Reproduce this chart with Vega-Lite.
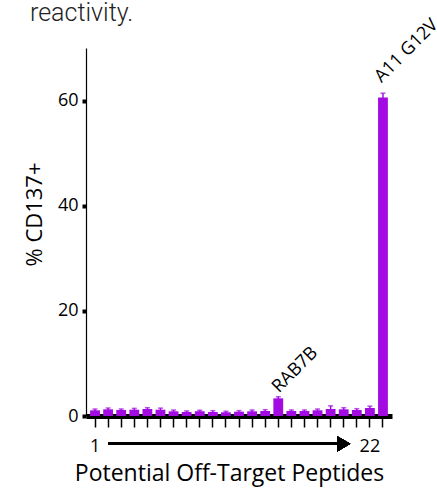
{
  "$schema": "https://vega.github.io/schema/vega-lite/v6.json",
  "autosize": "none",
  "width": 306,
  "height": 368,
  "padding": {"left": 86, "top": 48, "right": 45, "bottom": 74},
  "background": "white",
  "title": {"text": "reactivity.", "anchor": "start", "frame": "group", "dx": -56, "dy": 24, "offset": 14, "font": "Roboto", "fontWeight": 300, "fontSize": 25, "color": "#222222"},
  "config": {"view": {"stroke": null}, "font": "Open Sans"},
  "data": {"values": [
    {"idx": 1, "value": 1.08, "err": 0.25, "label": ""},
    {"idx": 2, "value": 1.27, "err": 0.25, "label": ""},
    {"idx": 3, "value": 1.14, "err": 0.2, "label": ""},
    {"idx": 4, "value": 1.2, "err": 0.25, "label": ""},
    {"idx": 5, "value": 1.33, "err": 0.25, "label": ""},
    {"idx": 6, "value": 1.2, "err": 0.3, "label": ""},
    {"idx": 7, "value": 0.89, "err": 0.25, "label": ""},
    {"idx": 8, "value": 0.76, "err": 0.2, "label": ""},
    {"idx": 9, "value": 0.89, "err": 0.2, "label": ""},
    {"idx": 10, "value": 0.76, "err": 0.25, "label": ""},
    {"idx": 11, "value": 0.7, "err": 0.2, "label": ""},
    {"idx": 12, "value": 0.82, "err": 0.2, "label": ""},
    {"idx": 13, "value": 0.89, "err": 0.25, "label": ""},
    {"idx": 14, "value": 0.95, "err": 0.25, "label": ""},
    {"idx": 15, "value": 3.36, "err": 0.3, "label": "RAB7B"},
    {"idx": 16, "value": 0.95, "err": 0.2, "label": ""},
    {"idx": 17, "value": 0.95, "err": 0.2, "label": ""},
    {"idx": 18, "value": 1.08, "err": 0.25, "label": ""},
    {"idx": 19, "value": 1.33, "err": 0.6, "label": ""},
    {"idx": 20, "value": 1.27, "err": 0.3, "label": ""},
    {"idx": 21, "value": 1.14, "err": 0.25, "label": ""},
    {"idx": 22, "value": 1.52, "err": 0.35, "label": ""},
    {"idx": 23, "value": 60.6, "err": 0.8, "label": "A11 G12V"}
  ]},
  "encoding": {
    "x": {"field": "idx", "type": "ordinal",
      "scale": {"paddingInner": 0.25, "paddingOuter": 0.315},
      "axis": {"title": "Potential Off-Target Peptides", "labelAngle": 0,
        "labelExpr": "datum.value == 1 ? '1' : datum.value == 22 ? '22' : ''",
        "domainColor": "black", "domainWidth": 5, "tickColor": "black", "tickWidth": 1.5, "tickSize": 11,
        "labelFont": "Open Sans", "labelFontSize": 18, "labelColor": "black", "labelPadding": 10,
        "titleFont": "Open Sans", "titleFontSize": 23, "titleFontWeight": "normal", "titleColor": "black",
        "titleX": 143, "titleY": 64, "titleBaseline": "alphabetic"}},
    "y": {"field": "value", "type": "quantitative", "title": "% CD137+",
       "scale": {"domain": [0, 70]},
       "axis": {"values": [0, 20, 40, 60], "grid": false,
         "domainColor": "black", "domainWidth": 1.2, "tickColor": "black", "tickWidth": 4, "tickSize": 4,
         "labelFont": "Open Sans", "labelFontSize": 18, "labelColor": "black", "labelPadding": 4,
         "titleFont": "Open Sans", "titleFontSize": 22, "titleFontWeight": "normal", "titleColor": "black", "titlePadding": 11, "titleY": 166}}
  },
  "layer": [
    {"mark": {"type": "bar", "color": "#A30BE3"}},
    {"mark": {"type": "errorbar", "color": "#A30BE3", "ticks": {"size": 5, "thickness": 1.5}, "thickness": 1.5},
     "encoding": {"yError": {"field": "err"}}},
    {"transform": [{"filter": "datum.label == 'RAB7B'"}],
     "mark": {"type": "text", "angle": -45, "align": "left", "baseline": "middle", "dx": 4, "dy": -8, "font": "Open Sans", "fontSize": 18, "color": "black"},
     "encoding": {"text": {"field": "label"}}},
    {"transform": [{"filter": "datum.label == 'A11 G12V'"}],
     "mark": {"type": "text", "angle": -45, "align": "left", "baseline": "middle", "dx": 9, "dy": -16, "font": "Open Sans", "fontSize": 18, "color": "black"},
     "encoding": {"text": {"field": "label"}}},
    {"mark": {"type": "rule", "color": "black", "strokeWidth": 2},
     "encoding": {"x": {"datum": 2, "bandPosition": 0.5}, "x2": {"datum": 20}, "y": {"datum": -5.3}}},
    {"mark": {"type": "point", "shape": "triangle-right", "filled": true, "color": "black", "size": 230, "opacity": 1},
     "encoding": {"x": {"datum": 20, "bandPosition": 0.5}, "y": {"datum": -5.3}}}
  ]
}
